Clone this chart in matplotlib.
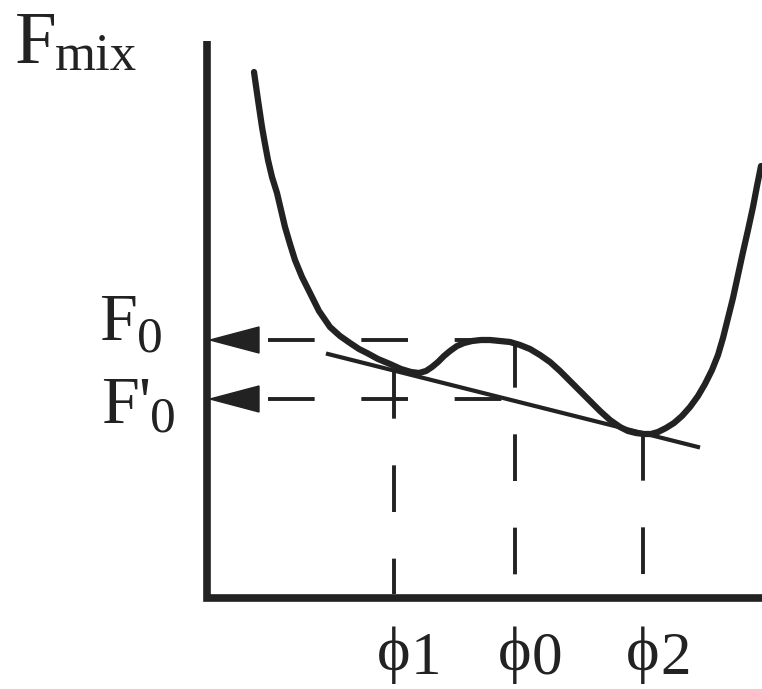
import matplotlib.pyplot as plt
from matplotlib.patches import Polygon

# free energy curve (x, y in image pixels)
curve_x = [254, 258, 262, 265, 268, 272, 277, 281, 285, 290, 295, 302, 310, 319,
           330, 340, 350, 359, 367, 378, 390, 401, 411, 419, 426, 432, 438, 444,
           450, 457, 464, 472, 481, 490, 500, 510, 520, 530, 540, 550, 560, 570,
           580, 590, 600, 610, 620, 628, 636, 644, 651, 658, 666, 674, 682, 690,
           698, 705, 712, 718, 723, 728, 733, 738, 743, 748, 753, 757, 761]
curve_y = [72, 100, 127, 144, 160, 177, 193, 210, 227, 244, 260, 277, 293, 311,
           327, 336, 343, 349, 353, 359, 364, 369, 372, 373, 371, 367, 362, 356,
           351, 346, 343, 341, 340, 340, 341, 342, 345, 349, 355, 362, 371, 381,
           391, 401, 411, 420, 427, 431, 433, 434, 434, 432, 428, 423, 416, 407,
           396, 384, 370, 355, 338, 318, 298, 275, 252, 230, 207, 186, 166]

# common tangent
tangent_x = [328, 698]
tangent_y = [354, 447]

# levels and compositions
F0_y = 340
F0p_y = 399
phi_x = {'1': 394, '0': 515, '2': 643}
phi_top = {'1': 372, '0': 341, '2': 434}

axis_x0, axis_y0 = 207, 598

fig = plt.figure(figsize=(7.62, 6.89), dpi=100)
ax = fig.add_axes([0, 0, 1, 1])
ax.set_xlim(0, 762)
ax.set_ylim(689, 0)
ax.axis('off')

ink = '#222222'
serif = ['Liberation Serif', 'DejaVu Serif']

# axes
ax.plot([axis_x0, axis_x0, 762], [41, axis_y0, axis_y0], color=ink, lw=5.5,
        solid_joinstyle='miter', solid_capstyle='butt')

# curve and tangent
ax.plot(curve_x, curve_y, color=ink, lw=4.5, solid_capstyle='round',
        solid_joinstyle='round')
ax.plot(tangent_x, tangent_y, color=ink, lw=3)

# dashed guides
dash = dict(color=ink, lw=2.8, dashes=(12, 12))
ax.plot([268, phi_x['0']], [F0_y, F0_y], **dash)
ax.plot([268, phi_x['0']], [F0p_y, F0p_y], **dash)
for k in phi_x:
    ax.plot([phi_x[k], phi_x[k]], [phi_top[k], axis_y0 - 4], **dash)

# arrow heads on the F axis
for yy in (F0_y, F0p_y):
    ax.add_patch(Polygon([[210, yy], [259, yy - 13], [259, yy + 13]],
                         closed=True, color=ink))

# labels
ax.text(15, 63, 'F', fontsize=54, family=serif, color=ink)
ax.text(55, 70, 'mix', fontsize=38, family=serif, color=ink)

ax.text(99, 340, 'F', fontsize=49, family=serif, color=ink)
ax.text(137, 352, '0', fontsize=37, family=serif, color=ink)
ax.text(101, 423, "F'", fontsize=49, family=serif, color=ink)
ax.text(150, 432, '0', fontsize=37, family=serif, color=ink)

for k in phi_x:
    x = phi_x[k]
    ax.text(x - 17, 670, '\u03d5', fontsize=46, family=serif, color=ink)
    ax.text(x + 17, 674, k, fontsize=44, family=serif, color=ink)

fig.savefig('out.png', dpi=100)
